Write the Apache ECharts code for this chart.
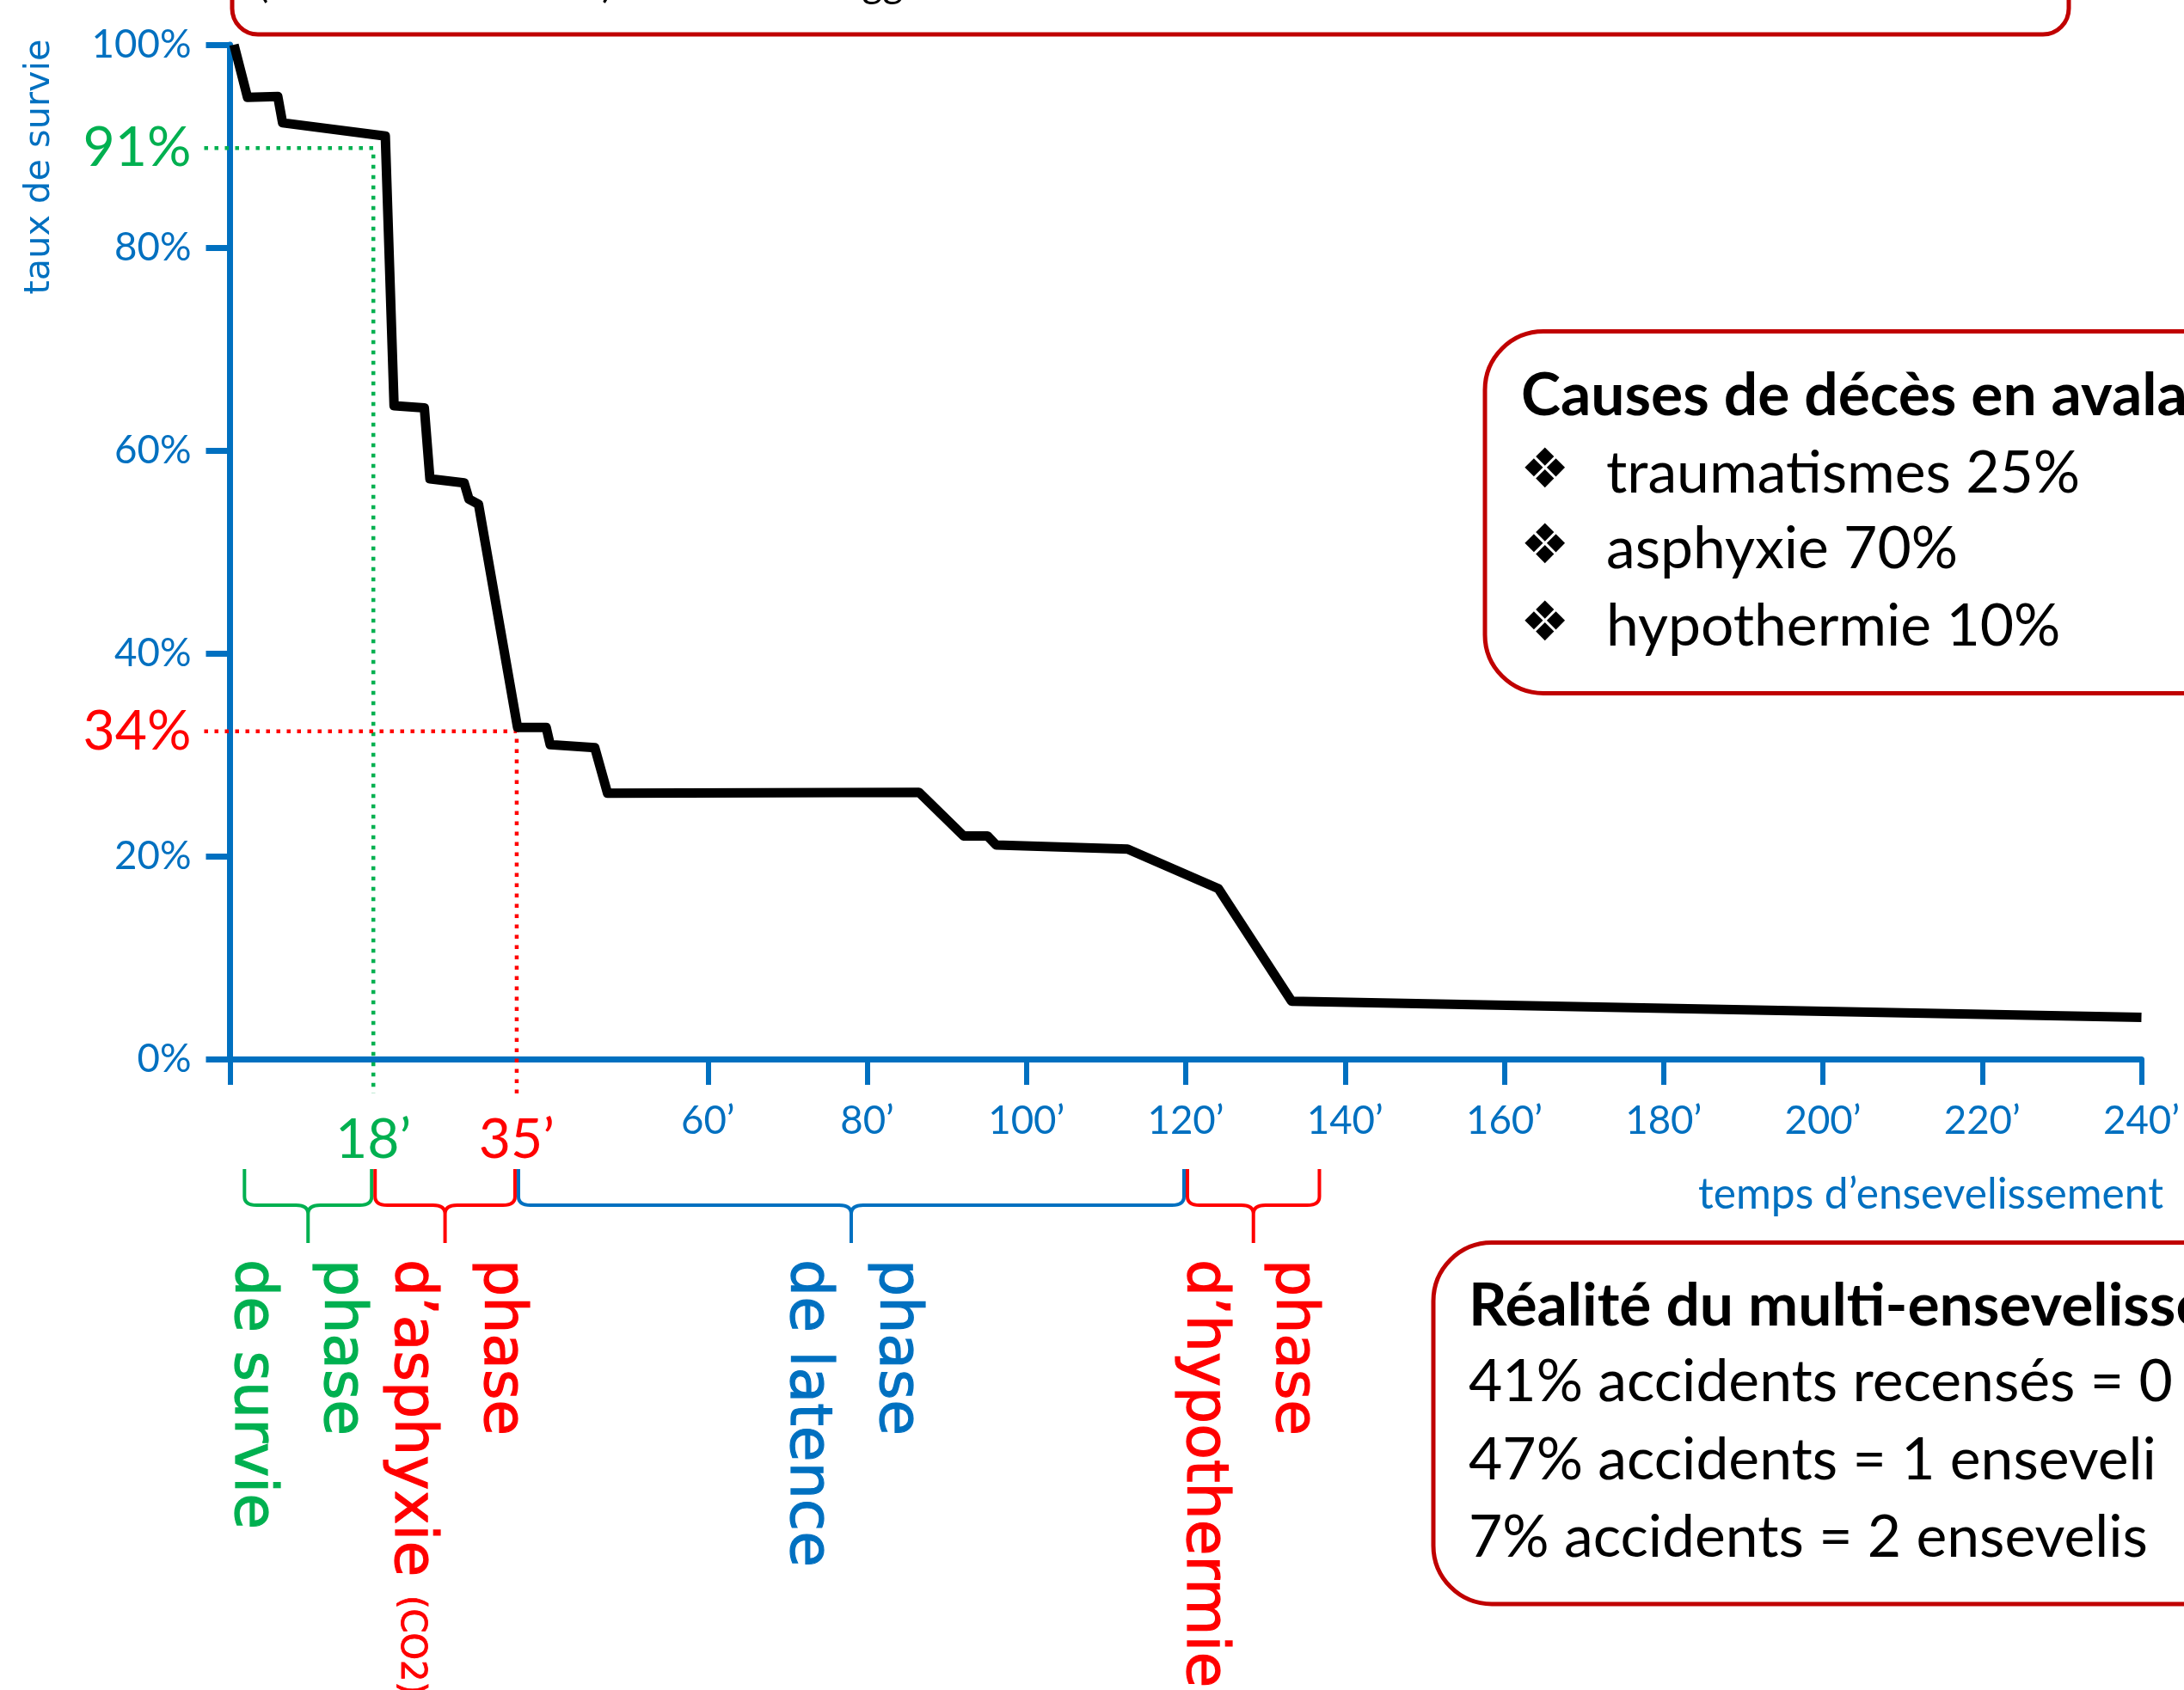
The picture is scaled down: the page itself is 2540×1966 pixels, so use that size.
<!DOCTYPE html>
<html><head><meta charset="utf-8">
<script src="https://cdn.jsdelivr.net/npm/echarts@6/dist/echarts.min.js"></script>
<style>html,body{margin:0;padding:0;background:#fff}#c{width:2540px;height:1966px}</style>
</head><body><div id="c"></div>
<script>
// ---- data ----
const timeMin = [0.5, 2.2, 6.0, 6.6, 19.5, 20.6, 24.4, 25.1, 29.4, 30.0, 31.2, 36.1, 39.7, 40.2, 45.8, 47.4, 86.5, 92.1, 95.1, 96.2, 112.7, 124.1, 133.3, 240];
const survivalPct = [100, 94.8, 94.9, 92.3, 91.0, 64.4, 64.2, 57.2, 56.8, 55.2, 54.7, 32.7, 32.7, 31.0, 30.7, 26.2, 26.3, 22.0, 22.0, 21.1, 20.7, 16.8, 5.7, 4.1];
const yTickValues = [0, 20, 40, 60, 80, 100];
const xTickValues = [0, 60, 80, 100, 120, 140, 160, 180, 200, 220, 240];
const xLabelValues = [60, 80, 100, 120, 140, 160, 180, 200, 220, 240];
// annotated reference points: positions, texts as printed
const markTimes = [18, 36];
const markTimeLabels = ['18’', '35’'];
const markPct = [89.8, 32.3];
const markPctLabels = ['91%', '34%'];
const phaseStart = [1.6, 18, 36, 120];
const phaseEnd = [18, 36, 120, 137];
const phaseLines = [['phase', 'de survie'], ['phase', 'd’asphyxie'], ['phase', 'de latence'], ['phase', 'd’hypothermie']];
const phaseNotes = ['', '(CO2)', '', ''];
const xAxisTitle = 'temps d’ensevelissement';
const yAxisTitle = 'taux de survie';
const topNote = '(sur 422 cas étudiés) – source : Brugger et al.';
const causesTitle = 'Causes de décès en avalanche';
const causesItems = ['traumatismes 25%', 'asphyxie 70%', 'hypothermie 10%'];
const burialTitle = 'Réalité du multi-ensevelissement';
const burialItems = ['41% accidents recensés = 0 enseveli', '47% accidents = 1 enseveli', '7% accidents = 2 ensevelis'];

// ---- styles ----
const BLUE = '#0070C0', GREEN = '#00B050', RED = '#FF0000', DARKRED = '#C00000';
const markColors = [GREEN, RED];
const phaseColors = [GREEN, RED, BLUE, RED];
const phaseLabelShift = [-15, 12, 0, -7]; // px, hand placement of the rotated texts
const FONT = 'Lato';
const VFONT = 'DejaVu Sans';
const mctx = document.createElement('canvas').getContext('2d');
function fit(text, family, weight, target) {
  mctx.font = weight + ' 100px "' + family + '"';
  return 100 * target / mctx.measureText(text).width;
}
const fsAxis = fit(xAxisTitle, FONT, 'normal', 541);
const fsTick = fit('100%', FONT, 'normal', 116);
const fsBig = fit('91%', FONT, 'normal', 126);
const fsBox = fit('47% accidents = 1 enseveli', FONT, 'normal', 800);
const fsTitle = fit('Causes de décès en avala', FONT, 'bold', 775);
const fsPhase = 68;
const fsYName = fit(yAxisTitle, VFONT, 'normal', 297);
const MID = 0.387; // baseline offset from text middle (em)
const xLabMargin = 72 - fsTick / 2;
const bigLH = 2 * (1326 - 1232 - xLabMargin);

const chart = echarts.init(document.getElementById('c'), null, {renderer: 'canvas'});

const richY = {};
markPct.forEach((v, i) => { richY['m' + i] = {fontSize: fsBig, fontFamily: FONT, color: markColors[i]}; });
const richX = {};
markTimes.forEach((v, i) => { richX['m' + i] = {fontSize: fsBig, fontFamily: FONT, color: markColors[i], lineHeight: bigLH}; });

function braceItem(params, api) {
  const i = params.dataIndex;
  const x1 = api.coord([api.value(0), 0])[0];
  const x2 = api.coord([api.value(1), 0])[0];
  const y0 = api.coord([0, 0])[1];
  const top = y0 + 128, mid = y0 + 170, bot = y0 + 214;
  const xa = x1 + 2, xb = x2 - 2, c = (x1 + x2) / 2;
  const rx = 14, ry = 10;
  const d = `M${xa},${top} L${xa},${mid - ry} Q${xa},${mid} ${xa + rx},${mid} L${c - rx},${mid} Q${c},${mid} ${c},${mid + ry} L${c},${bot} ` +
            `M${c},${mid + ry} Q${c},${mid} ${c + rx},${mid} L${xb - rx},${mid} Q${xb},${mid} ${xb},${mid - ry} L${xb},${top}`;
  const col = phaseColors[i];
  let txt = phaseLines[i][0] + '\n' + phaseLines[i][1];
  if (phaseNotes[i]) txt += ' {s|' + phaseNotes[i] + '}';
  return {
    type: 'group',
    children: [
      {type: 'path', shape: {pathData: d}, style: {stroke: col, fill: 'none', lineWidth: 4}},
      {type: 'text', x: c + phaseLabelShift[i], y: y0 + 233, rotation: -Math.PI / 2,
       style: {text: txt, fill: col, stroke: col, lineWidth: 1.2, fontSize: fsPhase, fontFamily: VFONT, align: 'left', verticalAlign: 'middle',
               lineHeight: 104, rich: {s: {fontSize: 40, fontFamily: VFONT, fill: col, stroke: col, lineWidth: 0.8, lineHeight: 104}}}}
    ]
  };
}

function guideItem(params, api) {
  const p = api.coord([api.value(0), api.value(1)]);
  const o = api.coord([0, 0]);
  return {type: 'polyline', shape: {points: [[o[0] - 30, p[1]], [p[0], p[1]], [p[0], o[1] + 40]]},
          style: {stroke: markColors[params.dataIndex], lineWidth: 4.5, lineDash: [4.5, 7.5], fill: null}};
}

const graphics = [];
// top note box (cut by the canvas top)
graphics.push({type: 'rect', shape: {x: 270, y: -120, width: 2136, height: 160, r: 30}, style: {fill: '#fff', stroke: DARKRED, lineWidth: 5}, z: 1});
graphics.push({type: 'text', x: 300, y: 5, style: {text: topNote, fontSize: 46, fontFamily: FONT, fill: '#000', align: 'left', verticalAlign: 'bottom'}, z: 2});
// y axis title
graphics.push({type: 'text', x: 46, y: 194, rotation: Math.PI / 2, style: {text: yAxisTitle, fontSize: fsYName, fontFamily: VFONT, fill: BLUE, align: 'center', verticalAlign: 'middle'}});
// x axis title
graphics.push({type: 'text', x: 2516, y: 1409 - MID * fsAxis, style: {text: xAxisTitle, fontSize: fsAxis, fontFamily: FONT, fill: BLUE, align: 'right', verticalAlign: 'middle'}});
// causes box
graphics.push({type: 'rect', shape: {x: 1727, y: 385.5, width: 1000, height: 421, r: 68}, style: {fill: '#fff', stroke: DARKRED, lineWidth: 5}});
graphics.push({type: 'text', x: 1769, y: 487 - MID * fsTitle, style: {text: causesTitle, fontSize: fsTitle, fontWeight: 'bold', fontFamily: FONT, fill: '#000', align: 'left', verticalAlign: 'middle'}});
const causeBase = [577, 665, 755];
causesItems.forEach((t, i) => {
  graphics.push({type: 'text', x: 1768, y: causeBase[i] - 27, style: {text: '❖', fontSize: 64, fontFamily: VFONT, fill: '#000', align: 'left', verticalAlign: 'middle'}});
  graphics.push({type: 'text', x: 1868, y: causeBase[i] - MID * fsBox, style: {text: t, fontSize: fsBox, fontFamily: FONT, fill: '#000', align: 'left', verticalAlign: 'middle'}});
});
// burial box
graphics.push({type: 'rect', shape: {x: 1667, y: 1445.5, width: 1000, height: 420.5, r: 68}, style: {fill: '#fff', stroke: DARKRED, lineWidth: 5}});
graphics.push({type: 'text', x: 1708, y: 1546 - MID * fsTitle, style: {text: burialTitle, fontSize: fsTitle, fontWeight: 'bold', fontFamily: FONT, fill: '#000', align: 'left', verticalAlign: 'middle'}});
const burialBase = [1634, 1725, 1815];
burialItems.forEach((t, i) => {
  graphics.push({type: 'text', x: 1708, y: burialBase[i] - MID * fsBox, style: {text: t, fontSize: fsBox, fontFamily: FONT, fill: '#000', align: 'left', verticalAlign: 'middle'}});
});

const option = {
  animation: false,
  backgroundColor: '#fff',
  grid: {left: 267.5, right: 49.5, top: 52, bottom: 734, containLabel: false, outerBoundsMode: 'none'},
  xAxis: {
    type: 'value', min: 0, max: 240,
    axisLine: {show: true, onZero: false, lineStyle: {color: BLUE, width: 7}},
    axisTick: {show: true, customValues: xTickValues, length: 30, lineStyle: {color: BLUE, width: 6}},
    axisLabel: {show: true, customValues: markTimes.concat(xLabelValues), margin: xLabMargin, color: BLUE, fontSize: fsTick, fontFamily: FONT, lineHeight: fsTick,
      formatter: v => { const k = markTimes.indexOf(v); return k >= 0 ? '{m' + k + '|' + markTimeLabels[k] + '}' : v + '’'; }, rich: richX},
    splitLine: {show: false}
  },
  yAxis: {
    type: 'value', min: 0, max: 100, interval: 20,
    axisLine: {show: true, lineStyle: {color: BLUE, width: 7}},
    axisTick: {show: true, customValues: yTickValues, length: 28, lineStyle: {color: BLUE, width: 7}},
    axisLabel: {show: true, customValues: yTickValues.concat(markPct), margin: 45, color: BLUE, fontSize: fsTick, fontFamily: FONT,
      formatter: v => { const k = markPct.indexOf(v); return k >= 0 ? '{m' + k + '|' + markPctLabels[k] + '}' : v + '%'; }, rich: richY},
    splitLine: {show: false}
  },
  graphic: {elements: graphics},
  series: [
    {type: 'custom', coordinateSystem: 'cartesian2d', clip: false, z: 3, silent: true,
     data: markTimes.map((t, i) => [t, markPct[i]]), renderItem: guideItem},
    {type: 'line', data: timeMin.map((t, i) => [t, survivalPct[i]]), showSymbol: false, symbol: 'none', z: 4,
     lineStyle: {color: '#000', width: 11, join: 'round', cap: 'butt'}, clip: false, silent: true},
    {type: 'custom', coordinateSystem: 'cartesian2d', clip: false, z: 3, silent: true,
     data: phaseStart.map((s, i) => [s, phaseEnd[i]]), renderItem: braceItem}
  ]
};
chart.setOption(option);
</script></body></html>
